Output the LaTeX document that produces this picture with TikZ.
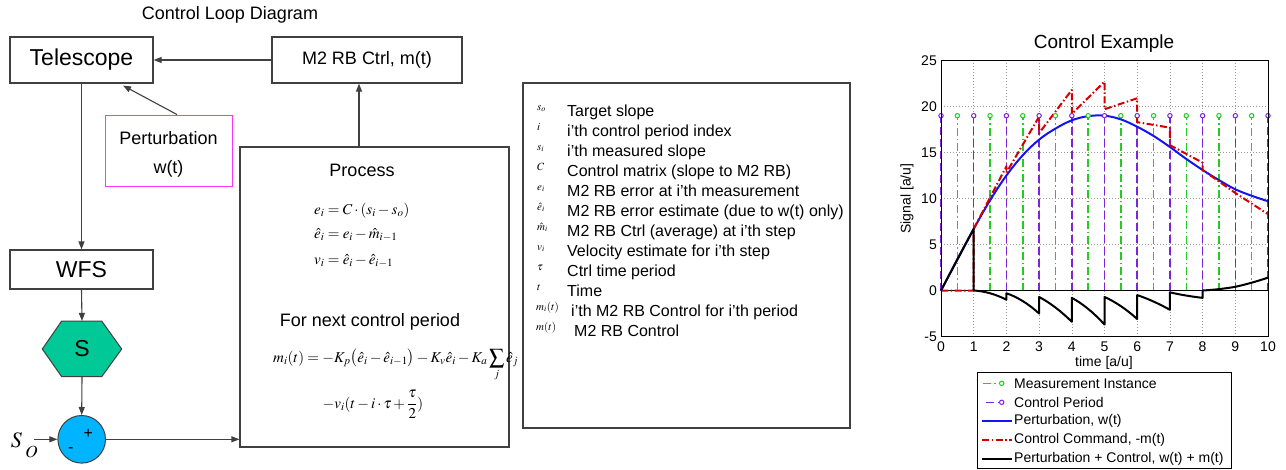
\documentclass[tikz,border=0pt]{standalone}
\usepackage{mathptmx}
\usepackage{fontspec}
\setmainfont{Liberation Sans}
\usetikzlibrary{arrows.meta,calc}
\newcommand\fsz[1]{\fontsize{#1}{#1}\selectfont}
\definecolor{boxgray}{HTML}{404040}
\definecolor{hexgreen}{HTML}{00C896}
\definecolor{circblue}{HTML}{00B4FF}
\definecolor{mgreen}{HTML}{22CC22}
\definecolor{mpurple}{HTML}{7F22DD}
\definecolor{mred}{HTML}{D40000}
\definecolor{mblue}{HTML}{1414EE}
\definecolor{pmag}{HTML}{FF33FF}
\begin{document}
\begin{tikzpicture}[x=1pt,y=-1pt,
  blk/.style={draw=boxgray,line width=1.1pt,fill=white,inner sep=0pt,font=\fsz{18}},
  arr/.style={draw=boxgray,line width=1.1pt,-{Triangle[length=8pt,width=6pt]}},
  gridl/.style={gray!80,line width=0.6pt,dash pattern=on 1pt off 2pt},
  mstem/.style={mgreen,line width=1.5pt,dash pattern=on 8pt off 3pt on 1.5pt off 3pt},
  cstem/.style={mpurple,line width=1.5pt,dash pattern=on 8pt off 4pt},
  mk/.style={line width=1pt,fill=white},
  lbl/.style={inner sep=0pt},
  curve/.style={line width=2pt,line join=round}]
\useasboundingbox (0,0) rectangle (1286,469);

% ---------------- Control loop diagram ----------------
\node[lbl,font=\fsz{18}] (title) at (230,15) {Control Loop Diagram};
\node[blk,minimum width=143pt,minimum height=46pt,font=\fsz{23}] (tel) at (81.5,60) {Telescope};
\node[blk,minimum width=190pt,minimum height=46pt] (m2) at (367,60) {M2 RB Ctrl, m(t)};
\node[blk,draw=pmag,line width=0.9pt,minimum width=127pt,minimum height=71pt] (pert) at (168.5,150.5) {};
\node[lbl,font=\fontsize{18}{29}\selectfont,align=center] (perttxt) at (168.5,154) {Perturbation\\w(t)};
\node[blk,minimum width=143pt,minimum height=39pt,font=\fsz{23}] (wfs) at (81.5,269.5) {WFS};
\draw[draw=boxgray,line width=1pt,fill=hexgreen]
  (42.3,349) -- (61.7,321) -- (101.7,321) -- (121.7,349) -- (101.7,376.7) -- (61.7,376.7) -- cycle;
\node[lbl,minimum width=79.4pt,minimum height=55.7pt,font=\fsz{23}] (hex) at (82,349) {S};
\node[circle,draw=boxgray,fill=circblue,line width=1pt,minimum size=47.6pt,inner sep=0pt] (sum) at (81.7,439.3) {};
\node[lbl,font=\fsz{16}] (plus) at (88.3,434) {+};
\node[lbl,font=\fsz{16}] (minus) at (70.7,450) {-};
\node[lbl,font=\fsz{22}] (so) at (16.5,440) {$S$};
\node[lbl,font=\fsz{17}] (sosub) at (31.5,452) {$O$};
\coordinate (sostart) at (34,439.3);

\node[blk,minimum width=269pt,minimum height=300pt] (proc) at (374.5,297) {};
\node[lbl,font=\fsz{18}] (ptitle) at (362,170) {Process};
\node[lbl,anchor=base west,font=\fsz{15}] (eq1) at (314,214) {$e_i = C\cdot(s_i - s_o)$};
\node[lbl,anchor=base west,font=\fsz{15}] (eq2) at (314,238) {$\hat{e}_i = e_i - \hat{m}_{i-1}$};
\node[lbl,anchor=base west,font=\fsz{15}] (eq3) at (314,264) {$v_i = \hat{e}_i - \hat{e}_{i-1}$};
\node[lbl,font=\fsz{18}] (fnext) at (370,321.5) {For next control period};
\node[lbl,anchor=base west,font=\fsz{15}] (eq4) at (273,362)
  {$\displaystyle m_i(t) = -K_p\bigl(\hat{e}_i - \hat{e}_{i-1}\bigr) - K_v\hat{e}_i - K_a\sum_j \hat{e}_j$};
\node[lbl,anchor=base,font=\fsz{15}] (eq5) at (373,408)
  {$\displaystyle -v_i(t - i\cdot\tau + \frac{\tau}{2})$};

\coordinate (pup) at (359,147);
\draw[arr] (m2.west) -- (tel.east);
\draw[arr] ($(pert.north)+(8.5,0)$) -- ($(tel.south)+(41.5,2)$);
\draw[arr] (tel.south) -- (wfs.north);
\draw[arr] (wfs.south) -- (hex.north);
\draw[arr] (hex.south) -- (sum.north);
\draw[arr] (sostart) -- (sum.west);
\draw[arr] (sum.east) -- (sum.east -| proc.west);
\draw[arr] (pup) -- (pup |- m2.south);

% ---------------- Symbol list ----------------
\node[blk,minimum width=327pt,minimum height=345pt] (syms) at (686.5,255.5) {};
\foreach \s/\t [count=\k from 0] in {
  {$s_o$}/{Target slope},
  {$i$}/{i’th control period index},
  {$s_i$}/{i’th measured slope},
  {$C$}/{Control matrix (slope to M2 RB)},
  {$e_i$}/{M2 RB error at i’th measurement},
  {$\hat{e}_i$}/{M2 RB error estimate (due to w(t) only)},
  {$\hat{m}_i$}/{M2 RB Ctrl (average) at i’th step},
  {$v_i$}/{Velocity estimate for i’th step},
  {$\tau$}/{Ctrl time period},
  {$t$}/{Time}} {
  \node[lbl,anchor=base west,font=\fsz{11}] (sym\k) at (537,110+20*\k) {\s};
  \node[lbl,anchor=base west,font=\fsz{16}] (txt\k) at (567,116+20*\k) {\t};
}
\node[lbl,anchor=base west,font=\fsz{11}] (sym10) at (536,310) {$m_i(t)$};
\node[lbl,anchor=base west,font=\fsz{16}] (txt10) at (571,316) {i’th M2 RB Control for i’th period};
\node[lbl,anchor=base west,font=\fsz{11}] (sym11) at (536,330) {$m(t)$};
\node[lbl,anchor=base west,font=\fsz{16}] (txt11) at (574,336) {M2 RB Control};

% ---------------- Plot ----------------
\node[lbl,font=\fsz{19}] (ptitle2) at (1104,43.5) {Control Example};
\node[lbl,font=\fsz{14},rotate=90] (ylab) at (907,198.5) {Signal [a/u]};
\node[lbl,font=\fsz{14}] (xlab) at (1104,363) {time [a/u]};
\begin{scope}[shift={(941,290.5)},x=32.7pt,y=9.2pt]
  \foreach \i in {1,...,9} \draw[gridl] (\i,-5) -- (\i,25);
  \foreach \j in {5,10,15,20} \draw[gridl] (0,\j) -- (10,\j);
  \foreach \i in {0.5,1.5,...,9.5} \draw[mstem] (\i,0) -- (\i,19);
  \foreach \i in {0,...,10} \draw[cstem] (\i,0) -- (\i,19);
  \draw[black,line width=0.9pt] (0,0) -- (10,0);
  \draw[curve,mblue] plot[smooth,tension=0.6] coordinates {(0,0) (0.5,3.4) (1,6.7) (1.5,9.8) (2,12.5) (2.5,14.7) (3,16.4) (3.5,17.6) (4,18.5) (4.5,18.95) (5,19.0) (5.5,18.6) (6,17.8) (6.5,16.8) (7,15.6) (7.5,14.3) (8,13.1) (8.5,12.0) (9,11.0) (9.5,10.3) (10,9.7)};
  \draw[curve,mred,dash pattern=on 7pt off 2.5pt on 1.5pt off 2.5pt]
    (0,0) -- (1,0) -- (1,6.7) -- (2,13.5) -- (2,12.8) -- (3,18.9) -- (3,17.1) -- (4,21.8) -- (4,19.2) -- (5,22.7) -- (5,19.7) -- (6,20.9) -- (6,18.3) -- (7,17.7) -- (7,15.8) -- (8,13.9) -- (8,13.1) -- (9,10.6) -- (10,8.3);
  \draw[curve,black]
    (0,0) -- (1,6.7) -- (1,0)
    .. controls (1.333,-0.067) and (1.667,-0.4) .. (2,-1.0) -- (2,-0.3)
    .. controls (2.333,-0.7) and (2.667,-1.433) .. (3,-2.5) -- (3,-0.7)
    .. controls (3.333,-1.333) and (3.667,-2.233) .. (4,-3.4) -- (4,-0.8)
    .. controls (4.333,-1.433) and (4.667,-2.4) .. (5,-3.7) -- (5,-0.7)
    .. controls (5.333,-1.233) and (5.667,-2.033) .. (6,-3.1) -- (6,-0.5)
    .. controls (6.333,-0.9) and (6.667,-1.433) .. (7,-2.1) -- (7,-0.2)
    .. controls (7.333,-0.467) and (7.667,-0.667) .. (8,-0.8) -- (8,0)
    .. controls (8.333,0.067) and (8.667,0.2) .. (9,0.4)
    .. controls (9.333,0.667) and (9.667,1.0) .. (10,1.4);
  \foreach \i in {0.5,1.5,...,9.5} \draw[mk,draw=mgreen] (\i,19) circle[radius=2.2pt];
  \foreach \i in {0,...,10} \draw[mk,draw=mpurple] (\i,19) circle[radius=2.2pt];
  \draw[black,line width=0.9pt] (0,-5) rectangle (10,25);
  \foreach \i in {0,...,10} \node[lbl,anchor=north,font=\fsz{14},yshift=-5pt] (xt\i) at (\i,-5) {\i};
  \foreach \j in {-5,0,5,10,15,20,25} \node[lbl,anchor=east,font=\fsz{14},xshift=-4pt] (yt\j) at (0,\j) {\j};
\end{scope}

% legend
\node[draw=black,line width=0.8pt,fill=white,minimum width=254pt,minimum height=96pt,inner sep=0pt] (leg) at (1104,420) {};
\draw[mstem] (983,383.3) -- (1001.7,383.3);
\draw[mk,draw=mgreen] (1001.7,383.3) circle[radius=2.2pt];
\draw[cstem] (986,402.3) -- (1001.7,402.3);
\draw[mk,draw=mpurple] (1001.7,402.3) circle[radius=2.2pt];
\draw[curve,mblue] (982,421.3) -- (1012,421.3);
\draw[curve,mred,dash pattern=on 7pt off 2.5pt on 1.5pt off 2.5pt] (982,440.3) -- (1012,440.3);
\draw[curve,black] (982,459.3) -- (1012,459.3);
\node[lbl,anchor=west,font=\fsz{14}] (l1) at (1014,383.3) {Measurement Instance};
\node[lbl,anchor=west,font=\fsz{14}] (l2) at (1014,402.3) {Control Period};
\node[lbl,anchor=west,font=\fsz{14}] (l3) at (1014,421.3) {Perturbation, w(t)};
\node[lbl,anchor=west,font=\fsz{14}] (l4) at (1014,440.3) {Control Command, -m(t)};
\node[lbl,anchor=west,font=\fsz{14}] (l5) at (1014,459.3) {Perturbation + Control, w(t) + m(t)};
\end{tikzpicture}
\end{document}
